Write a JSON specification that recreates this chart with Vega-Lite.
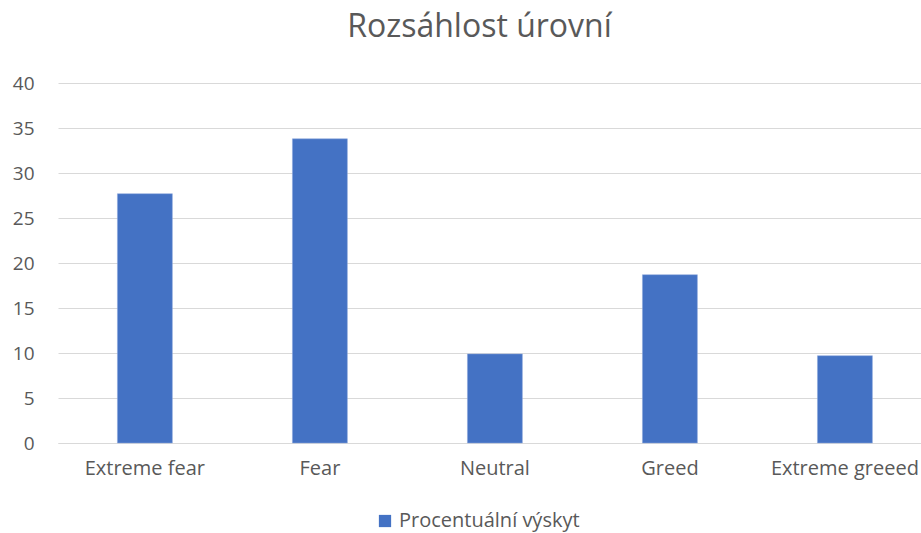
{
  "$schema": "https://vega.github.io/schema/vega-lite/v6.json",
  "autosize": {"type": "none"},
  "width": 863,
  "height": 360,
  "padding": {"left": 58, "top": 83, "right": 0, "bottom": 90},
  "background": "white",
  "title": {
    "text": "Rozsáhlost úrovní",
    "font": "Open Sans",
    "fontSize": 32,
    "fontWeight": "normal",
    "color": "#595959",
    "anchor": "middle",
    "dx": -10,
    "offset": 30
  },
  "data": {
    "values": [
      {"level": "Extreme fear", "value": 27.7, "series": "Procentuální výskyt"},
      {"level": "Fear", "value": 33.8, "series": "Procentuální výskyt"},
      {"level": "Neutral", "value": 9.9, "series": "Procentuální výskyt"},
      {"level": "Greed", "value": 18.7, "series": "Procentuální výskyt"},
      {"level": "Extreme greeed", "value": 9.7, "series": "Procentuální výskyt"}
    ]
  },
  "mark": {"type": "bar", "stroke": "#8fa9dc", "strokeWidth": 0.5},
  "encoding": {
    "x": {
      "field": "level",
      "type": "nominal",
      "sort": null,
      "scale": {"paddingInner": 0.686, "paddingOuter": 0.3086, "align": 0.55},
      "axis": {
        "title": null,
        "labelAngle": 0,
        "labelFont": "Open Sans",
        "labelFontSize": 20,
        "labelColor": "#595959",
        "labelPadding": 15,
        "labelLimit": 400,
        "ticks": false,
        "domainColor": "#d9d9d9",
        "labelOverlap": false,
        "labelBound": false
      }
    },
    "y": {
      "field": "value",
      "type": "quantitative",
      "scale": {"domain": [0, 40]},
      "axis": {
        "title": null,
        "values": [0, 5, 10, 15, 20, 25, 30, 35, 40],
        "labelFont": "Open Sans",
        "labelFontSize": 19,
        "labelColor": "#595959",
        "labelPadding": 24,
        "ticks": false,
        "domain": false,
        "gridColor": "#d9d9d9",
        "gridWidth": 1
      }
    },
    "color": {
      "field": "series",
      "type": "nominal",
      "scale": {"range": ["#4472C4"]},
      "legend": {
        "title": null,
        "orient": "none",
        "legendX": 317,
        "legendY": 428,
        "symbolType": "square",
        "symbolSize": 150,
        "symbolStrokeWidth": 0,
        "labelFont": "Open Sans",
        "labelFontSize": 20,
        "labelColor": "#595959",
        "labelOffset": 4,
        "labelLimit": 400
      }
    }
  },
  "config": {"view": {"stroke": null}}
}
